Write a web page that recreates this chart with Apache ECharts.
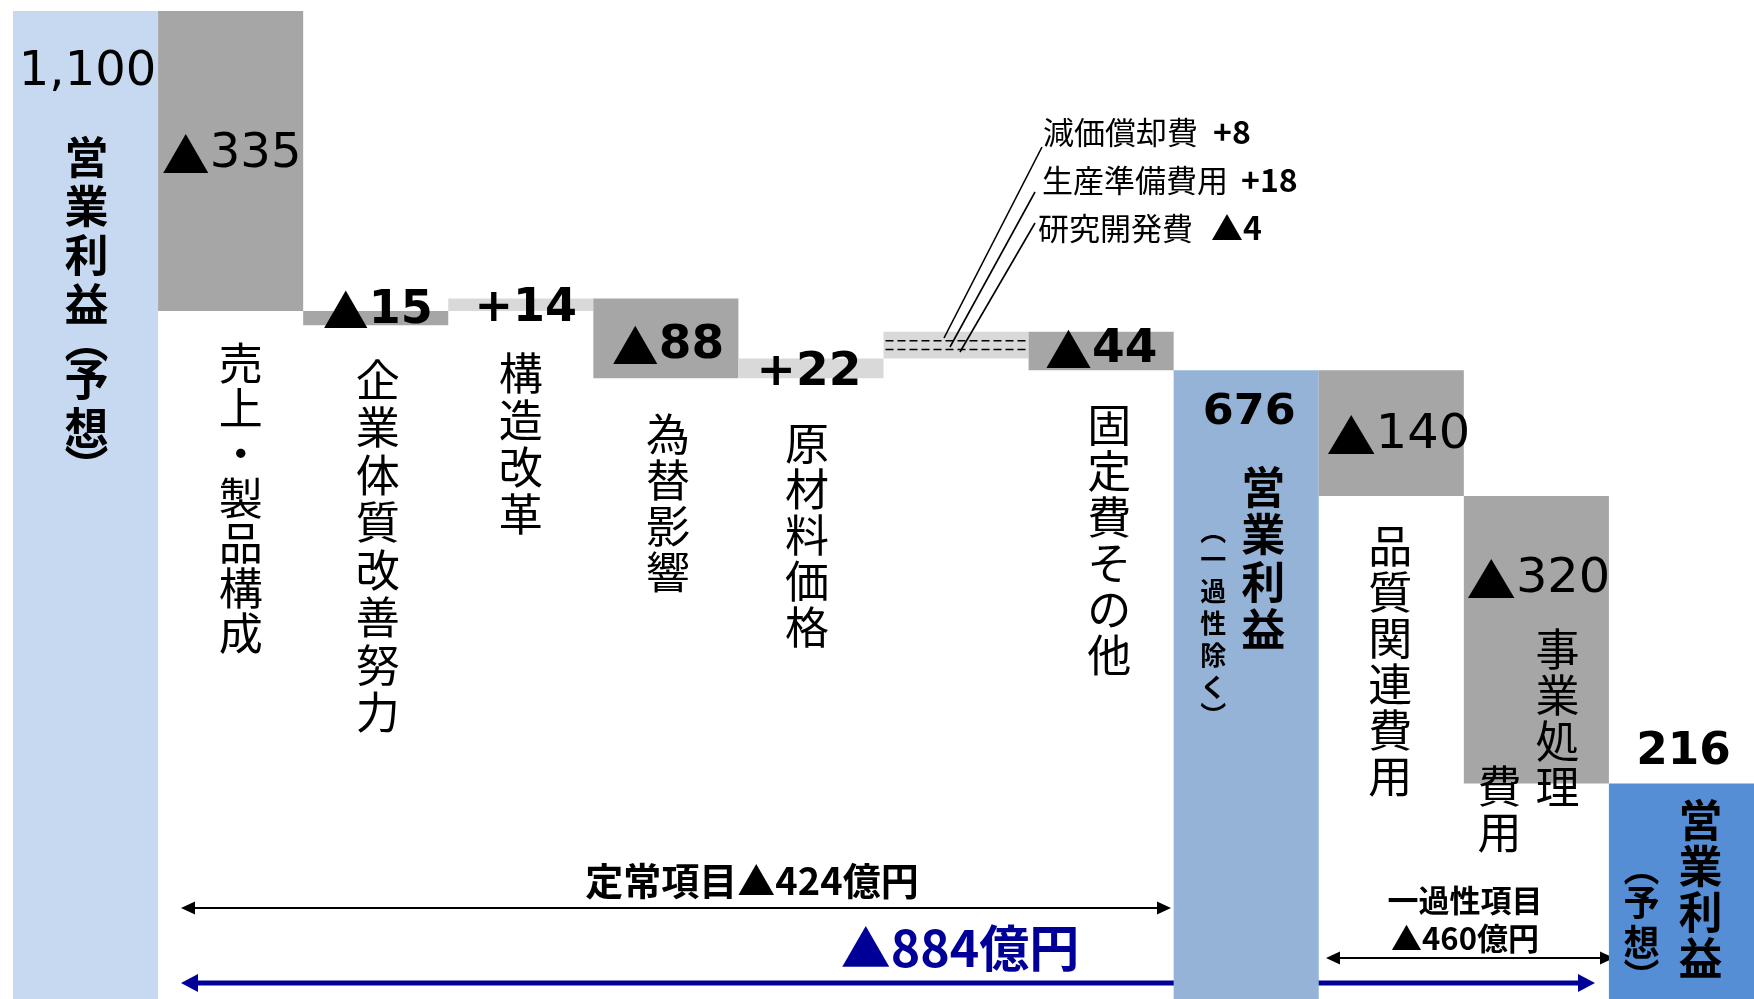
<!DOCTYPE html>
<html><head><meta charset="utf-8">
<script src="https://cdn.jsdelivr.net/npm/echarts@6/dist/echarts.min.js"></script>
<style>html,body{margin:0;padding:0;background:#fff;overflow:hidden}#c{width:1754px;height:999px}</style>
</head><body><div id="c"></div>
<script>
// ---- data ----
const categories = ['営業利益（予想）','売上・製品構成','企業体質改善努力','構造改革','為替影響','原材料価格','その他経費','固定費その他','営業利益（一過性除く）','品質関連費用','事業処理費用','営業利益（予想）'];
const changeValues = [1100, -335, -15, 14, -88, 22, 22, -44, 676, -140, -320, 216];
// bar extents as drawn in the picture (chart units)
const barLow  = [0,    766, 750, 766, 691, 691, 713, 700, 0,   560, 240, 0];
const barHigh = [1100, 1100, 766, 780, 780, 713, 743, 743, 700, 700, 560, 240];
const barKind = ['total1','down','down','up','down','up','other','down','total2','down','down','total3'];
const subItems = ['減価償却費','生産準備費用','研究開発費'];
const subValues = [8, 18, -4];
const regularTotal = -424;
const oneTimeTotal = -460;
const overallTotal = -884;

const COLORS = {total1:'#c6d9f1', down:'#a6a6a6', up:'#d9d9d9', other:'#d9d9d9', total2:'#95b3d7', total3:'#558ed5'};
const JP = "'Noto Sans CJK JP', sans-serif";
const NUM = "'DejaVu Sans', 'Noto Sans CJK JP', sans-serif";
const BLUE = '#000099';

function fmtChange(v){ return v < 0 ? '▲' + Math.abs(v) : '+' + v; }
function fmtTotal(v){ return v.toLocaleString('en-US'); }

const chart = echarts.init(document.getElementById('c'), null, {renderer:'canvas'});
chart.setOption({
  animation:false,
  backgroundColor:'#ffffff',
  grid:{left:13, top:11, width:1744.4, height:995.5},
  xAxis:{type:'category', data:categories, show:false},
  yAxis:{type:'value', min:0, max:1100, show:false},
  series:[{
    type:'custom',
    data: categories.map((c,i)=>[i, barLow[i], barHigh[i]]),
    encode:{x:0, y:[1,2]},
    renderItem(params, api){
      const i = api.value(0);
      const p0 = api.coord([i, api.value(1)]);
      const p1 = api.coord([i, api.value(2)]);
      const w = api.size([1,0])[0];
      const r = {x:p0[0]-w/2, y:p1[1], width:w, height:p0[1]-p1[1]};
      const kind = barKind[i];
      const children = [{type:'rect', shape:r, style:{fill:COLORS[kind]}}];
      if (kind === 'other') {
        [1/3, 2/3].forEach(f => children.push({type:'line',
          shape:{x1:r.x+2, y1:r.y+r.height*f, x2:r.x+r.width-2, y2:r.y+r.height*f},
          style:{stroke:'#000', lineWidth:1.5, lineDash:[8,4]}}));
      }
      return {type:'group', children};
    }
  }]
});

function cx(i){ return chart.convertToPixel({gridIndex:0}, [i, 0])[0]; }

// number label: triangle from CJK font, digits from DejaVu
function numLabel(str, x, y, size, weight, sx){
  const parts = [];
  if (str[0] === '▲') { parts.push('{t|▲}'); str = str.slice(1); }
  parts.push('{n|' + str + '}');
  return {type:'text', x, y, scaleX:sx||1, z:20, style:{text:parts.join(''), align:'center', verticalAlign:'middle', fill:'#000',
    rich:{t:{fontFamily:JP, fontSize:size, fontWeight:weight, fill:'#000'}, n:{fontFamily:NUM, fontSize:size, fontWeight:weight, fill:'#000'}}}};
}
function vtext(str, x, glyphTop, size, lh, weight, pr, color){
  color = color || '#000';
  pr = pr || 0.6;
  const chars = Array.from(str);
  const parts = chars.map(c => (c==='︵'||c==='︶') ? '{p|'+c+'}' : '{a|'+c+'}');
  return {type:'text', x, y: glyphTop - (lh/2 - 0.45*size), z:20, style:{text:parts.join('\n'), align:'center', verticalAlign:'top', fill:color,
    rich:{a:{fontSize:size, lineHeight:lh, fontWeight:weight, fontFamily:JP, fill:color, align:'center'},
          p:{fontSize:size, lineHeight:lh*pr, fontWeight:weight, fontFamily:JP, fill:color, align:'center'}}}};
}
function htext(str, x, y, size, weight, color, align, family){
  return {type:'text', x, y, z:20, style:{text:str, align:align||'center', verticalAlign:'middle', fill:color||'#000', fontFamily:family||JP, fontSize:size, fontWeight:weight}};
}
function arrow(x1, x2, y, color, lw, hl, hw){
  return {type:'group', z:15, children:[
    {type:'line', shape:{x1:x1+hl-1, y1:y, x2:x2-hl+1, y2:y}, style:{stroke:color, lineWidth:lw}},
    {type:'polygon', shape:{points:[[x1,y],[x1+hl,y-hw],[x1+hl,y+hw]]}, style:{fill:color}},
    {type:'polygon', shape:{points:[[x2,y],[x2-hl,y-hw],[x2-hl,y+hw]]}, style:{fill:color}}
  ]};
}

const g = [];
// value labels: [dx, y, size, weight, scaleX]
const numPos = [[2,73,48,'normal',1],[1,155,48,'normal',1],[2,311,46,'bold',1],[5,309,46,'bold',1],[2,346,47,'bold',1],[-2,373,47,'bold',1],null,[0,350,47,'bold',1],[3,413,42,'bold',1.06],[7,436,48,'normal',1.03],[2,580,48,'normal',1.03],[2,753,44,'bold',1.03]];
changeValues.forEach((v,i)=>{
  const p = numPos[i]; if (!p) return;
  const s = (barKind[i].indexOf('total')===0) ? fmtTotal(v) : fmtChange(v);
  g.push(numLabel(s, cx(i)+p[0], p[1], p[2], p[3], p[4]));
});
// vertical category labels
g.push(vtext('営業利益︵予想︶', cx(0)+1, 137, 44, 49, 'bold', 0.55));
g.push(vtext('売上・製品構成', cx(1)+10, 343, 44, 45, 'normal'));
g.push(vtext('企業体質改善努力', cx(2)+2, 360, 44, 47.5, 'normal'));
g.push(vtext('構造改革', cx(3), 353, 44, 47, 'normal'));
g.push(vtext('為替影響', cx(4)+2, 414, 44, 46, 'normal'));
g.push(vtext('原材料価格', cx(5)-4, 423, 44, 46, 'normal'));
g.push(vtext('固定費その他', cx(7)+8, 405, 44, 46, 'normal'));
g.push(vtext('営業利益', cx(8)+17, 467, 44, 47.5, 'bold'));
g.push(vtext('︵一過性除く︶', cx(8)-33, 523, 26, 32, 'bold', 0.75));
g.push(vtext('品質関連費用', cx(9)-1, 526, 44, 46, 'normal'));
g.push(vtext('事業処理', cx(10)+21, 629, 44, 46, 'normal'));
g.push(vtext('費用', cx(10)-37, 766, 44, 46, 'normal'));
g.push(vtext('営業利益', cx(11)+19, 800, 44, 46, 'bold'));
g.push(vtext('︵予想︶', cx(11)-40, 858, 36, 40, 'bold', 0.7));

// breakdown annotations of the dashed bar
const subY = [132, 180, 228];
const subX = [1043, 1042, 1038];
const subGap = [15, 13, 18];
subItems.forEach((name,k)=>{
  const v = subValues[k];
  g.push(htext(name, subX[k], subY[k], 31, 'normal', '#000', 'left'));
  g.push(htext(fmtChange(v), subX[k] + Array.from(name).length*31 + subGap[k], subY[k], 32, 'bold', '#000', 'left'));
});
const leaders = [[1042,147,944,338],[1035,192,950,347],[1035,223,960,352]];
leaders.forEach(l=> g.push({type:'line', z:18, shape:{x1:l[0],y1:l[1],x2:l[2],y2:l[3]}, style:{stroke:'#000', lineWidth:1.6}}));

// bottom brackets
g.push(htext('定常項目' + fmtChange(regularTotal) + '億円', 752, 881, 38, 'bold'));
g.push(arrow(181, 1171, 908, '#000', 2, 14, 6.5));
g.push(htext(fmtChange(overallTotal) + '億円', 960, 948, 50, 'bold', BLUE));
g.push(arrow(181, 1595, 983, BLUE, 5, 17, 9));
g.push(htext('一過性項目', 1465, 900, 31, 'bold'));
g.push(htext(fmtChange(oneTimeTotal) + '億円', 1465, 938, 31, 'bold'));
g.push(arrow(1326, 1614, 958, '#000', 2, 14, 6.5));

chart.setOption({graphic:{elements:g}});
</script>
</body></html>
